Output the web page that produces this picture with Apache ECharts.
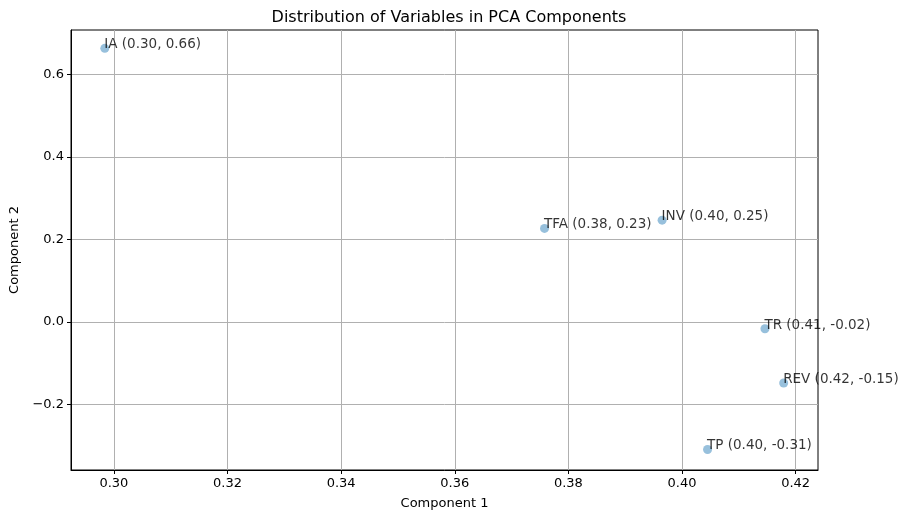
<!DOCTYPE html>
<html>
<head>
<meta charset="utf-8">
<script src="https://cdn.jsdelivr.net/npm/echarts@6/dist/echarts.min.js"></script>
<style>
html, body { margin: 0; padding: 0; background: #fff; }
#chart { width: 901px; height: 515px; }
</style>
</head>
<body>
<div id="chart"></div>
<script>
// variables and their loadings on the first two components
const names = ['IA', 'TFA', 'INV', 'TR', 'REV', 'TP'];
const comp1 = [0.2984, 0.3758, 0.3965, 0.4146, 0.4179, 0.4045];
const comp2 = [0.6625, 0.2264, 0.2464, -0.0165, -0.148, -0.309];
const xTicks = [0.30, 0.32, 0.34, 0.36, 0.38, 0.40, 0.42];
const yTicks = [-0.2, 0.0, 0.2, 0.4, 0.6];

const font = 'DejaVu Sans';
const chart = echarts.init(document.getElementById('chart'));

const points = names.map(function (n, i) {
	return { name: n, value: [comp1[i], comp2[i]] };
});

const option = {
	animation: false,
	title: {
		text: 'Distribution of Variables in PCA Components',
		left: 444,
		top: 5,
		textAlign: 'center',
		textStyle: { fontFamily: font, fontSize: 16, fontWeight: 'normal', color: '#000' }
	},
	grid: {
		left: 71, right: 83, top: 30, bottom: 42,
		show: true, borderColor: '#000', borderWidth: 1
	},
	xAxis: {
		type: 'value',
		min: 0.29245,
		max: 0.42394,
		name: 'Component 1',
		nameLocation: 'middle',
		nameGap: 27,
		nameTextStyle: { fontFamily: font, fontSize: 13, color: '#000' },
		axisLine: { show: true, onZero: false, lineStyle: { color: '#000' } },
		axisTick: { show: true, length: 4, customValues: xTicks, lineStyle: { color: '#000' } },
		axisLabel: {
			customValues: xTicks, margin: 7,
			fontFamily: font, fontSize: 13, color: '#000',
			formatter: function (v) { return v.toFixed(2); }
		},
		splitLine: { show: true, customValues: xTicks, lineStyle: { color: '#b0b0b0', width: 1 } }
	},
	yAxis: {
		type: 'value',
		min: -0.3587,
		max: 0.707,
		name: 'Component 2',
		nameLocation: 'middle',
		nameGap: 49,
		nameTextStyle: { fontFamily: font, fontSize: 13, color: '#000' },
		axisLine: { show: true, onZero: false, lineStyle: { color: '#000' } },
		axisTick: { show: true, length: 4, customValues: yTicks, lineStyle: { color: '#000' } },
		axisLabel: {
			customValues: yTicks, margin: 7,
			fontFamily: font, fontSize: 13, color: '#000',
			formatter: function (v) { return v.toFixed(1).replace('-', '\u2212'); }
		},
		splitLine: { show: true, customValues: yTicks, lineStyle: { color: '#b0b0b0', width: 1 } }
	},
	series: [{
		type: 'scatter',
		data: points,
		symbolSize: 9,
		itemStyle: { color: 'rgba(31,119,180,0.58)' },
		label: {
			show: true,
			position: [4, 4],
			align: 'left',
			verticalAlign: 'middle',
			offset: [0, -3],
			fontFamily: font,
			fontSize: 13.5,
			color: '#000',
			formatter: function (p) {
				return p.name + ' (' + p.value[0].toFixed(2) + ', ' + p.value[1].toFixed(2) + ')';
			}
		}
	}]
};
chart.setOption(option);
</script>
</body>
</html>
